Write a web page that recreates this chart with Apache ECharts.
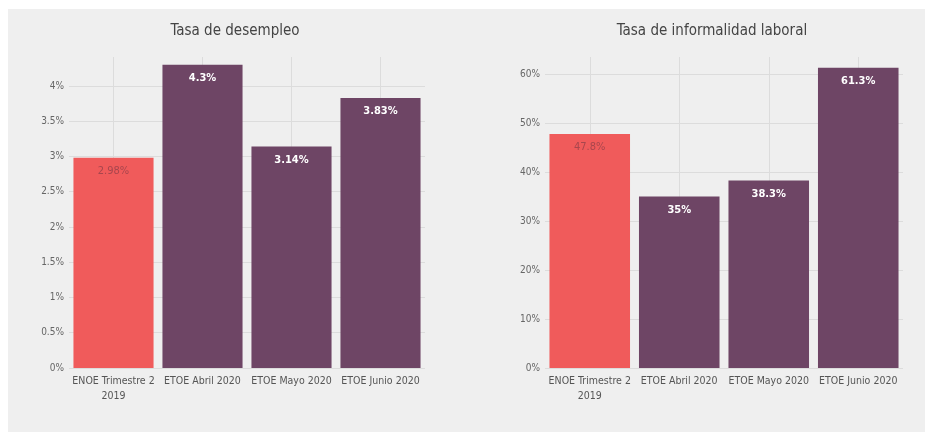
<!DOCTYPE html>
<html>
<head>
<meta charset="utf-8">
<script src="https://cdn.jsdelivr.net/npm/echarts@6/dist/echarts.min.js"></script>
<style>
html,body{margin:0;padding:0;background:#fff;}
#main{width:925px;height:432px;}
</style>
</head>
<body>
<div id="main"></div>
<script>
var categories = ['ENOE Trimestre 2\n2019', 'ETOE Abril 2020', 'ETOE Mayo 2020', 'ETOE Junio 2020'];
var desempleo = [2.98, 4.3, 3.14, 3.83];
var desempleoLabels = ['2.98%', '4.3%', '3.14%', '3.83%'];
var informalidad = [47.8, 35, 38.3, 61.3];
var informalidadLabels = ['47.8%', '35%', '38.3%', '61.3%'];
var titles = ['Tasa de desempleo', 'Tasa de informalidad laboral'];
var centerSlots = ['', '', '', '', '', '', '', '', ''];

var FONT = "'DejaVu Sans Condensed', 'Roboto', sans-serif";
var RED = '#f05b5b';
var PURPLE = '#6e4565';

function barData(vals, labels) {
  return vals.map(function (v, i) {
    return {
      value: v,
      itemStyle: { color: i === 0 ? RED : PURPLE },
      label: { formatter: labels[i], color: i === 0 ? '#a8464d' : '#ffffff', fontWeight: i === 0 ? 'normal' : 'bold' }
    };
  });
}

function gridColors(n) {
  var arr = [];
  for (var i = 0; i < n; i++) arr.push(i === n - 1 ? 'rgba(0,0,0,0)' : '#dcdcdc');
  return arr;
}

var chart = echarts.init(document.getElementById('main'));
chart.setOption({
  backgroundColor: '#ffffff',
  animation: false,
  graphic: [{
    type: 'rect', left: 8, top: 9, z: -10,
    shape: { width: 917, height: 423 },
    style: { fill: '#efefef' }
  }],
  title: [
    { text: titles[0], left: 230, top: 19, textAlign: 'center',
      textStyle: { fontFamily: FONT, fontSize: 15, fontWeight: 'normal', color: '#444' } },
    { text: titles[1], left: 707, top: 19, textAlign: 'center',
      textStyle: { fontFamily: FONT, fontSize: 15, fontWeight: 'normal', color: '#444' } }
  ],
  grid: [
    { left: 69, right: 500, top: 57, bottom: 64 },
    { left: 545, right: 22, top: 57, bottom: 64 }
  ],
  xAxis: [
    { type: 'category', gridIndex: 0, data: categories,
      axisLine: { show: false }, axisTick: { show: false },
      axisLabel: { fontFamily: FONT, fontSize: 10.5, color: '#555', margin: 6, lineHeight: 15, interval: 0 } },
    { type: 'category', gridIndex: 1, data: categories,
      axisLine: { show: false }, axisTick: { show: false },
      axisLabel: { fontFamily: FONT, fontSize: 10.5, color: '#555', margin: 6, lineHeight: 15, interval: 0 } },
    { type: 'category', gridIndex: 0, data: centerSlots, boundaryGap: false, position: 'bottom',
      axisLine: { show: false }, axisTick: { show: false }, axisLabel: { show: false },
      splitLine: { show: true, interval: function (i) { return i % 2 === 1; }, lineStyle: { color: '#dcdcdc' } } },
    { type: 'category', gridIndex: 1, data: centerSlots, boundaryGap: false, position: 'bottom',
      axisLine: { show: false }, axisTick: { show: false }, axisLabel: { show: false },
      splitLine: { show: true, interval: function (i) { return i % 2 === 1; }, lineStyle: { color: '#dcdcdc' } } }
  ],
  yAxis: [
    { type: 'value', gridIndex: 0, min: 0, max: 4.41, interval: 0.5,
      axisLine: { show: false }, axisTick: { show: false },
      axisLabel: { fontFamily: FONT, fontSize: 10, color: '#666', margin: 5, showMaxLabel: false,
        formatter: function (v) { return v + '%'; } },
      splitLine: { lineStyle: { color: gridColors(10) } } },
    { type: 'value', gridIndex: 1, min: 0, max: 63.5, interval: 10,
      axisLine: { show: false }, axisTick: { show: false },
      axisLabel: { fontFamily: FONT, fontSize: 10, color: '#666', margin: 5, showMaxLabel: false,
        formatter: function (v) { return v + '%'; } },
      splitLine: { lineStyle: { color: gridColors(8) } } }
  ],
  series: [
    { type: 'bar', xAxisIndex: 0, yAxisIndex: 0, barCategoryGap: '10%',
      data: barData(desempleo, desempleoLabels),
      label: { show: true, position: 'insideTop', distance: 8, fontFamily: FONT, fontSize: 11 } },
    { type: 'bar', xAxisIndex: 1, yAxisIndex: 1, barCategoryGap: '10%',
      data: barData(informalidad, informalidadLabels),
      label: { show: true, position: 'insideTop', distance: 8, fontFamily: FONT, fontSize: 11 } }
  ]
});
</script>
</body>
</html>
